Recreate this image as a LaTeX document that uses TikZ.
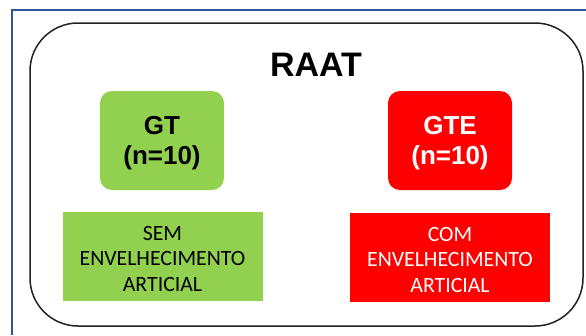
\documentclass[tikz,border=0pt]{standalone}
\usepackage{fontspec}
\setmainfont{Liberation Sans}
\newfontfamily\calib{Carlito}
\definecolor{gtgreen}{HTML}{92D050}
\definecolor{gtered}{HTML}{FF0000}
\definecolor{frameblue}{HTML}{2F5597}
\definecolor{outline}{HTML}{222222}
\begin{document}
\begin{tikzpicture}[x=1pt,y=-1pt,
  groupbox/.style={rounded corners=12pt, minimum width=124pt, minimum height=99pt, inner sep=0pt},
  grouptext/.style={inner sep=0pt, align=center, font=\fontsize{26}{30}\selectfont\bfseries},
  labelbox/.style={minimum width=200pt, minimum height=89pt, inner sep=0pt},
  labeltext/.style={inner sep=0pt, align=center, font=\calib\fontsize{21.8}{25.6}\selectfont},
  ]
\useasboundingbox (0,0) rectangle (586,335);
\fill[white] (0,0) rectangle (586,335);
\draw[frameblue, line width=1.5pt] (12,335) -- (12,10) -- (586,10);
\node[draw=outline, line width=1.5pt, rounded corners=48pt, minimum width=553pt, minimum height=303pt, inner sep=0pt] (frame) at (306.5,174.5) {};
\node[inner sep=0pt, font=\fontsize{34}{38}\selectfont\bfseries] (title) at (316,64.7) {RAAT};
\node[groupbox, fill=gtgreen] (gt) at (162,140.5) {};
\node[groupbox, fill=gtered] (gte) at (450,140.5) {};
\node[grouptext, text=black] (gtlabel) at (162,143) {GT\\(n=10)};
\node[grouptext, text=white] (gtelabel) at (450,143) {GTE\\(n=10)};
\node[labelbox, fill=gtgreen] (sem) at (162.5,256.4) {};
\node[labelbox, fill=gtered] (com) at (450,257.4) {};
\node[labeltext, text=black] (semlabel) at (162.5,258.6) {SEM\\ENVELHECIMENTO\\ARTICIAL};
\node[labeltext, text=white] (comlabel) at (450,259.6) {COM\\ENVELHECIMENTO\\ARTICIAL};
\end{tikzpicture}
\end{document}
